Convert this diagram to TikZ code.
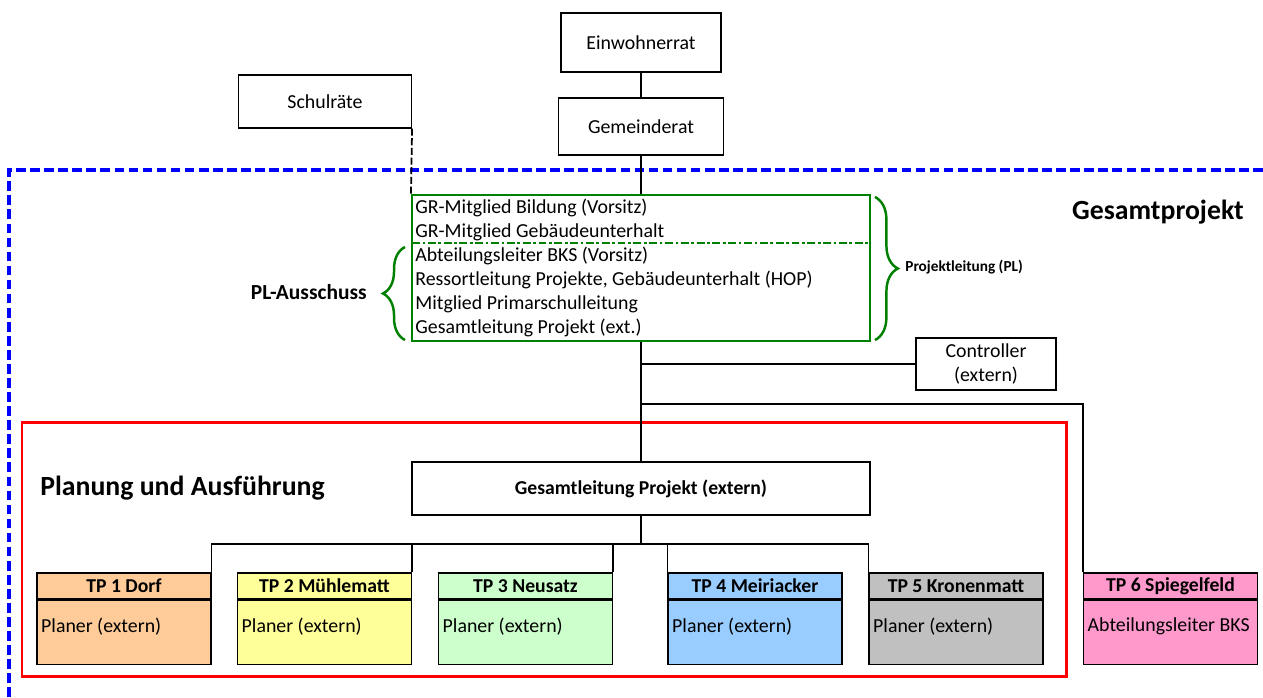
\documentclass[tikz,border=0pt]{standalone}
\usepackage{fontspec}
\setmainfont{Carlito}
\usetikzlibrary{decorations.pathreplacing}

\begin{document}
\begin{tikzpicture}[x = 0.02cm, y = -0.02cm,
  every node/.style = {font = \fontsize{11.3}{13.6}\selectfont},
  line/.style = {line width = 0.65pt},
  box/.style = {draw, line width = 0.65pt, inner sep = 0pt},
  plbox/.style = {draw = plGreen, line width = 1.2pt, inner sep = 0pt},
  pbrace/.style = {draw = plGreen, line width = 1.4pt, decorate, decoration = {brace, amplitude = #1}},
  tphead/.style = {box, fill = #1, minimum width = 3.48cm, minimum height = 0.52cm,
    font = \bfseries\fontsize{11.2}{13.6}\selectfont},
  tpbody/.style = {box, fill = #1, minimum width = 3.48cm, minimum height = 1.28cm, anchor = north},
  tptext/.style = {anchor = west, inner xsep = 2.5pt},
  title/.style = {inner sep = 0pt, font = \bfseries\fontsize{15.8}{18}\selectfont}]

  \definecolor{plGreen}{RGB}{0,128,0};
  \definecolor{tpOrange}{HTML}{FFCC99};
  \definecolor{tpYellow}{HTML}{FFFF99};
  \definecolor{tpGreen}{HTML}{CCFFCC};
  \definecolor{tpBlue}{HTML}{99CCFF};
  \definecolor{tpGray}{HTML}{C0C0C0};
  \definecolor{tpPink}{HTML}{FF99CC};

  \useasboundingbox (0, 0) rectangle (1263, 697);

  % frames
  \draw[blue, line width = 1.9pt, dash pattern = on 5.5pt off 2.5pt] (9, 697) -- (9, 170) -- (1263, 170);
  \draw[red, line width = 1.7pt] (22, 422) rectangle (1066, 676);

  % top
  \node[box, minimum width = 3.2cm, minimum height = 1.18cm] (ein) at (641, 42.5) {Einwohnerrat};
  \node[box, minimum width = 3.46cm, minimum height = 1.06cm] (schul) at (325, 101.5) {Schulräte};
  \node[box, minimum width = 3.3cm, minimum height = 1.14cm] (gem) at (641, 126.5) {Gemeinderat};

  % Projektleitung
  \node[plbox, minimum width = 9.16cm, minimum height = 2.92cm] (pl) at (641, 268) {};
  \node[anchor = west, align = left, inner sep = 0pt] (plText) at (415, 268)
    {GR-Mitglied Bildung (Vorsitz)\\
     GR-Mitglied Gebäudeunterhalt\\
     Abteilungsleiter BKS (Vorsitz)\\
     Ressortleitung Projekte, Gebäudeunterhalt (HOP)\\
     Mitglied Primarschulleitung\\
     Gesamtleitung Projekt (ext.)};
  \coordinate (plSplitW) at (412, 243);
  \coordinate (plSplitE) at (870, 243);
  \draw[plGreen, line width = 1.2pt, dash pattern = on 4.5pt off 1.5pt on 1.5pt off 1.5pt] (plSplitW) -- (plSplitE);

  \draw[pbrace = 13pt] (875, 197) -- (875, 340);
  \node[anchor = west, inner sep = 0pt, font = \bfseries\fontsize{8.7}{10}\selectfont] (plLabel) at (905, 267) {Projektleitung (PL)};
  \draw[pbrace = 12.5pt] (405, 340) -- (405, 247);
  \node[anchor = east, inner sep = 0pt, font = \bfseries\fontsize{12.2}{14}\selectfont] (ausLabel) at (367, 292) {PL-Ausschuss};

  \node[title] (gesLabel) at (1158, 212) {Gesamtprojekt};

  % Controller
  \node[box, minimum width = 2.8cm, minimum height = 1.04cm, align = center] (ctrl) at (986, 364) {Controller\\(extern)};

  % Planung und Ausfuehrung
  \node[title, anchor = west] (planLabel) at (40, 488) {Planung und Ausführung};
  \node[box, minimum width = 9.16cm, minimum height = 1.06cm, font = \bfseries\fontsize{11.2}{13.6}\selectfont] (gl) at (641, 488.5) {Gesamtleitung Projekt (extern)};

  \node[tphead = tpOrange] (tp1h) at (124, 586) {TP 1 Dorf};
  \node[tpbody = tpOrange] (tp1b) at (tp1h.south) {};
  \node[tptext] (tp1t) at ([yshift = 3.4pt] tp1b.west) {Planer (extern)};

  \node[tphead = tpYellow] (tp2h) at (324.5, 586) {TP 2 Mühlematt};
  \node[tpbody = tpYellow] (tp2b) at (tp2h.south) {};
  \node[tptext] (tp2t) at ([yshift = 3.4pt] tp2b.west) {Planer (extern)};

  \node[tphead = tpGreen] (tp3h) at (525.5, 586) {TP 3 Neusatz};
  \node[tpbody = tpGreen] (tp3b) at (tp3h.south) {};
  \node[tptext] (tp3t) at ([yshift = 3.4pt] tp3b.west) {Planer (extern)};

  \node[tphead = tpBlue] (tp4h) at (755, 586) {TP 4 Meiriacker};
  \node[tpbody = tpBlue] (tp4b) at (tp4h.south) {};
  \node[tptext] (tp4t) at ([yshift = 3.4pt] tp4b.west) {Planer (extern)};

  \node[tphead = tpGray] (tp5h) at (956, 586) {TP 5 Kronenmatt};
  \node[tpbody = tpGray] (tp5b) at (tp5h.south) {};
  \node[tptext] (tp5t) at ([yshift = 3.4pt] tp5b.west) {Planer (extern)};

  \node[tphead = tpPink] (tp6h) at (1170.5, 586) {TP 6 Spiegelfeld};
  \node[tpbody = tpPink] (tp6b) at (tp6h.south) {};
  \node[tptext] (tp6t) at ([yshift = 3.4pt] tp6b.west) {Abteilungsleiter BKS};

  % connectors
  \draw[line] (ein) -- (gem);
  \draw[line] (gem) -- (pl);
  \draw[line width = 1pt, dash pattern = on 4pt off 1.5pt] (schul.south east) -- (pl.north west);
  \draw[line] (pl) -- (gl);
  \draw[line] (ctrl.west) -- (ctrl.west -| pl.south);
  \coordinate (tp6Fork) at (641, 404);
  \draw[line] (tp6Fork) -| (tp6h.north west);

  \coordinate (bar) at (641, 544);
  \draw[line] (gl) -- (bar);
  \draw[line] (tp1h.north east) |- (bar) -| (tp5h.north west);
  \draw[line] (tp2h.north east) -- (tp2h.north east |- bar);
  \draw[line] (tp3h.north east) -- (tp3h.north east |- bar);
  \draw[line] (tp4h.north west) -- (tp4h.north west |- bar);
\end{tikzpicture}
\end{document}
